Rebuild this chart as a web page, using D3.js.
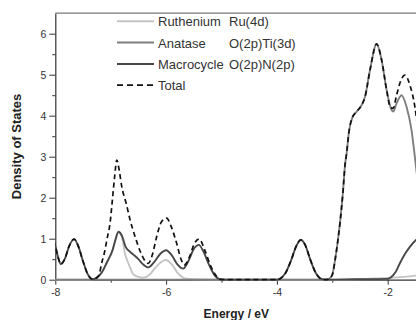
<!DOCTYPE html>
<html lang='en'>
<head>
    <meta charset='UTF-8'>
    <title>Density of States</title>
    <script src='https://cdnjs.cloudflare.com/ajax/libs/d3/7.8.5/d3.min.js'></script>
    <style>
        body { margin: 0; background: #fff; }
        svg { display: block; font-family: 'Liberation Sans', Arial, sans-serif; }
    </style>
</head>
<body>
    <div id='anchor'></div>
    <script>
        // [energy (eV), DOS]
        const rutheniumDOS = [
            [-8.0, 0], [-7.4, 0], [-7.3, 0.01], [-7.16, 0.17], [-7.07, 0.41], [-6.96, 0.74],
            [-6.92, 0.94], [-6.86, 1.15], [-6.80, 1.05], [-6.74, 0.62], [-6.68, 0.4], [-6.59, 0.13],
            [-6.50, 0.07], [-6.41, 0.05], [-6.30, 0.12], [-6.20, 0.28], [-6.10, 0.42], [-6.01, 0.48],
            [-5.90, 0.38], [-5.80, 0.18], [-5.75, 0.11], [-5.66, 0.03], [-5.5, 0.01], [-5.0, 0],
            [-3.0, 0], [-2.6, 0.01], [-2.0, 0.04], [-1.7, 0.07], [-1.49, 0.1], [-1.4, 0.12]
        ];
        const anataseDOS = [
            [-8.0, 0], [-3.12, 0], [-3.06, 0.02], [-3.0, 0.12], [-2.95, 0.48], [-2.90, 0.95],
            [-2.86, 1.4], [-2.81, 2.1], [-2.77, 2.8], [-2.74, 3.1], [-2.70, 3.6], [-2.64, 3.95],
            [-2.56, 4.1], [-2.47, 4.26], [-2.41, 4.46], [-2.32, 5.11], [-2.20, 5.75], [-2.11, 5.36],
            [-2.02, 4.63], [-1.93, 4.14], [-1.90, 4.1], [-1.84, 4.3], [-1.75, 4.5], [-1.66, 4.22],
            [-1.57, 3.65], [-1.51, 3.0], [-1.45, 2.3]
        ];
        const macrocycleDOS = [
            [-8.03, 0.95], [-8.0, 0.82], [-7.95, 0.55], [-7.90, 0.38], [-7.83, 0.5], [-7.75, 0.82],
            [-7.66, 0.99], [-7.58, 0.8], [-7.50, 0.45], [-7.42, 0.15], [-7.32, 0.01], [-7.25, 0.05],
            [-7.16, 0.18], [-7.07, 0.42], [-6.96, 0.75], [-6.92, 0.95], [-6.86, 1.17], [-6.80, 1.08],
            [-6.73, 0.8], [-6.65, 0.68], [-6.58, 0.6], [-6.50, 0.5], [-6.42, 0.38], [-6.32, 0.3],
            [-6.22, 0.42], [-6.10, 0.64], [-6.00, 0.72], [-5.90, 0.6], [-5.80, 0.38], [-5.69, 0.27],
            [-5.60, 0.45], [-5.50, 0.75], [-5.41, 0.85], [-5.33, 0.7], [-5.23, 0.38], [-5.12, 0.1],
            [-5.03, 0.01], [-4.95, 0], [-4.0, 0], [-3.95, 0.02], [-3.85, 0.15], [-3.75, 0.45],
            [-3.65, 0.82], [-3.57, 0.97], [-3.49, 0.85], [-3.40, 0.5], [-3.30, 0.17], [-3.20, 0.02],
            [-3.12, 0], [-2.6, 0.01], [-2.0, 0.02], [-1.94, 0.06], [-1.86, 0.18], [-1.78, 0.4],
            [-1.70, 0.6], [-1.60, 0.8], [-1.49, 0.97], [-1.40, 1.05]
        ];
        const totalDOS = [
            [-8.03, 0.95], [-8.0, 0.82], [-7.95, 0.55], [-7.90, 0.38], [-7.83, 0.5], [-7.75, 0.82],
            [-7.66, 0.99], [-7.58, 0.8], [-7.50, 0.45], [-7.42, 0.15], [-7.32, 0.01], [-7.26, 0.04],
            [-7.21, 0.12], [-7.16, 0.42], [-7.12, 0.62], [-7.065, 1.0], [-7.01, 1.4], [-6.97, 1.94],
            [-6.93, 2.5], [-6.89, 2.92], [-6.85, 2.7], [-6.80, 2.27], [-6.72, 1.86], [-6.65, 1.46],
            [-6.56, 1.05], [-6.47, 0.7], [-6.40, 0.5], [-6.32, 0.4], [-6.25, 0.6], [-6.17, 1.05],
            [-6.08, 1.42], [-5.99, 1.5], [-5.91, 1.3], [-5.81, 0.89], [-5.73, 0.5], [-5.67, 0.36],
            [-5.58, 0.55], [-5.49, 0.88], [-5.40, 0.99], [-5.31, 0.75], [-5.20, 0.35], [-5.10, 0.1],
            [-5.03, 0.01], [-4.95, 0], [-4.0, 0], [-3.95, 0.02], [-3.85, 0.15], [-3.75, 0.45],
            [-3.65, 0.82], [-3.57, 0.97], [-3.49, 0.85], [-3.40, 0.5], [-3.30, 0.17], [-3.20, 0.02],
            [-3.12, 0], [-3.06, 0.02], [-3.0, 0.12], [-2.95, 0.48], [-2.90, 0.95], [-2.86, 1.4],
            [-2.81, 2.1], [-2.77, 2.8], [-2.74, 3.1], [-2.70, 3.6], [-2.64, 3.95], [-2.56, 4.1],
            [-2.47, 4.26], [-2.41, 4.46], [-2.32, 5.11], [-2.20, 5.75], [-2.11, 5.36], [-2.02, 4.63],
            [-1.95, 4.2], [-1.90, 4.18], [-1.84, 4.5], [-1.75, 4.9], [-1.69, 4.99], [-1.60, 4.75],
            [-1.51, 4.22], [-1.45, 3.6]
        ];

        const seriesNames = ['Ruthenium', 'Anatase', 'Macrocycle', 'Total'];
        const seriesOrbitals = ['Ru(4d)', 'O(2p)Ti(3d)', 'O(2p)N(2p)', ''];
        const seriesData = [rutheniumDOS, anataseDOS, macrocycleDOS, totalDOS];
        const seriesColors = ['#c4c4c4', '#7e7e7e', '#484848', '#111'];

        const xMajor = [-8, -6, -4, -2];
        const xMinor = [-7, -5, -3];
        const yMajor = [0, 1, 2, 3, 4, 5, 6];
        const yMinor = [0.5, 1.5, 2.5, 3.5, 4.5, 5.5];

        const width = 416, height = 320;
        const svg = d3.select('#anchor').append('svg')
            .attr('width', width)
            .attr('height', height);

        const x = d3.scaleLinear().domain([-8, -1.4]).range([55.3, 55.3 + 6.6 * 55.4]);
        const y = d3.scaleLinear().domain([0, 6.5]).range([279.7, 13.2]);

        svg.append('clipPath').attr('id', 'plot')
            .append('rect')
            .attr('x', x(-8)).attr('y', 0)
            .attr('width', width - x(-8)).attr('height', y(0) + 1);

        // top frame
        svg.append('line')
            .attr('x1', x(-8)).attr('x2', width)
            .attr('y1', y(6.5)).attr('y2', y(6.5))
            .attr('stroke', '#777').attr('stroke-width', 1.2);

        const styleAxis = g => {
            g.selectAll('.domain').attr('stroke', '#333').attr('stroke-width', 1.2);
            g.selectAll('.tick line').attr('stroke', '#333');
            g.selectAll('.tick text').attr('fill', '#333').attr('font-size', 10.5);
        };
        const plain = d => String(d);

        svg.append('g')
            .attr('transform', `translate(0,${y(0)})`)
            .call(d3.axisBottom(x).tickValues(xMajor).tickFormat(plain).tickSize(5).tickPadding(4).tickSizeOuter(0))
            .call(styleAxis);
        svg.append('g')
            .attr('transform', `translate(0,${y(0)})`)
            .call(d3.axisBottom(x).tickValues(xMinor).tickSize(3).tickFormat(''))
            .call(g => g.select('.domain').remove())
            .call(styleAxis);

        svg.append('g')
            .attr('transform', `translate(${x(-8)},0)`)
            .call(d3.axisLeft(y).tickValues(yMajor).tickFormat(plain).tickSize(6).tickPadding(3).tickSizeOuter(0))
            .call(styleAxis);
        svg.append('g')
            .attr('transform', `translate(${x(-8)},0)`)
            .call(d3.axisLeft(y).tickValues(yMinor).tickSize(3).tickFormat(''))
            .call(g => g.select('.domain').remove())
            .call(styleAxis);

        const line = d3.line()
            .x(d => x(d[0]))
            .y(d => y(d[1]))
            .curve(d3.curveMonotoneX);

        const curves = svg.append('g').attr('clip-path', 'url(#plot)').attr('fill', 'none');
        seriesData.forEach((data, i) => {
            curves.append('path')
                .attr('d', line(data))
                .attr('stroke', seriesColors[i])
                .attr('stroke-width', i === 3 ? 1.7 : 1.9)
                .attr('stroke-dasharray', i === 3 ? '5,3.5' : null)
                .attr('stroke-linejoin', 'round');
        });

        // legend
        const legend = svg.append('g');
        seriesNames.forEach((name, i) => {
            const ly = 21.3 + i * 21.3;
            legend.append('line')
                .attr('x1', 117).attr('x2', 154)
                .attr('y1', ly).attr('y2', ly)
                .attr('stroke', seriesColors[i])
                .attr('stroke-width', i === 3 ? 1.7 : 2)
                .attr('stroke-dasharray', i === 3 ? '6,4' : null);
            legend.append('text')
                .attr('x', 158).attr('y', ly + 5)
                .attr('font-size', 13).attr('fill', '#333')
                .text(name);
            legend.append('text')
                .attr('x', 229).attr('y', ly + 5)
                .attr('font-size', 13).attr('fill', '#333')
                .text(seriesOrbitals[i]);
        });

        svg.append('text')
            .attr('transform', `translate(20.5,${y(3.25)}) rotate(-90)`)
            .attr('text-anchor', 'middle')
            .attr('font-size', 13).attr('font-weight', 'bold').attr('fill', '#222')
            .text('Density of States');

        svg.append('text')
            .attr('x', 236.3).attr('y', 317.5)
            .attr('text-anchor', 'middle')
            .attr('font-size', 12).attr('font-weight', 'bold').attr('fill', '#222')
            .text('Energy / eV');
    </script>
</body>
</html>
